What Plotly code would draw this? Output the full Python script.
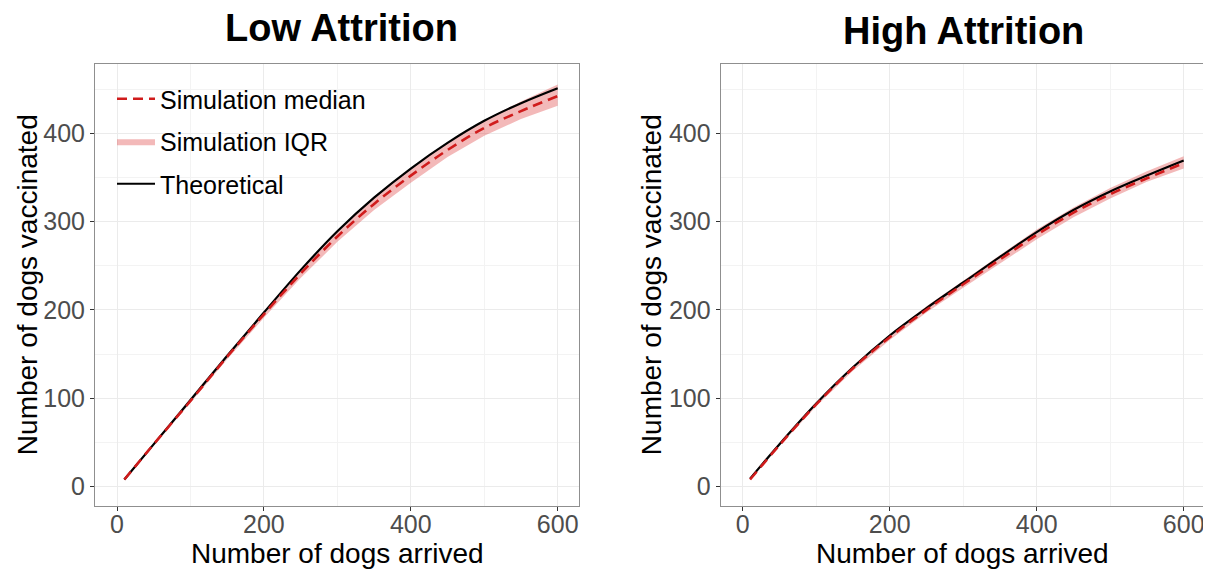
import plotly.graph_objects as go

# ---- data ----
x_vals = [10, 50, 100, 150, 200, 250, 300, 350, 400, 450, 500, 550, 600]

low_theory = [8, 48, 98, 148, 197, 245, 289, 327, 360, 389, 414, 434, 451]
low_median = [8, 48, 97, 147, 195, 241, 283, 320, 352, 381, 406, 425, 442]
low_iqr_hi = [9, 49, 99, 149, 198, 246, 290, 328, 360, 389, 415, 436, 455]
low_iqr_lo = [7, 46, 95, 144, 191, 236, 277, 313, 344, 373, 397, 416, 431]

high_theory = [9, 48, 94, 135, 171, 202, 231, 260, 288, 313, 334, 352, 369]
high_median = [8, 47, 93, 134, 169, 200, 229, 257, 285, 310, 331, 349, 366]
high_iqr_hi = [9, 49, 95, 136, 172, 204, 233, 262, 291, 316, 338, 357, 374]
high_iqr_lo = [7, 46, 91, 131, 166, 197, 225, 253, 280, 305, 326, 345, 360]

titles = ["Low Attrition", "High Attrition"]
x_title = "Number of dogs arrived"
y_title = "Number of dogs vaccinated"
x_ticks = [0, 200, 400, 600]
y_ticks = [0, 100, 200, 300, 400]

RED = "#D01C1C"
FILL = "rgba(222,60,60,0.36)"
FONT = "Liberation Sans, Arial, sans-serif"

fig = go.Figure()

panels = [
    ("x", "y", low_theory, low_median, low_iqr_hi, low_iqr_lo, True),
    ("x2", "y2", high_theory, high_median, high_iqr_hi, high_iqr_lo, False),
]
for xa, ya, th, med, hi, lo, show in panels:
    fig.add_trace(go.Scatter(
        x=x_vals + x_vals[::-1], y=hi + lo[::-1], xaxis=xa, yaxis=ya,
        fill="toself", fillcolor=FILL, line=dict(width=0), mode="lines",
        name="Simulation IQR", legendgroup="iqr", legendrank=2,
        showlegend=show, hoverinfo="skip"))
    fig.add_trace(go.Scatter(
        x=x_vals, y=th, xaxis=xa, yaxis=ya, mode="lines",
        line=dict(color="black", width=2.2, shape="spline"),
        name="Theoretical", legendgroup="theo", legendrank=3, showlegend=show))
    fig.add_trace(go.Scatter(
        x=x_vals, y=med, xaxis=xa, yaxis=ya, mode="lines",
        line=dict(color=RED, width=2.6, dash="10px,6px", shape="spline"),
        name="Simulation median", legendgroup="med", legendrank=1, showlegend=show))

# the figure is laid out in window pixels (origin at the window's top-left)
OFF = 8
W, H = 1211 - OFF, 573 - OFF

def px_x(xpx):
    return (xpx - OFF) / W

def px_y(ypx):
    return (H - (ypx - OFF)) / H

top_px, bot_px = 64.3, 506
ydom = [px_y(bot_px), px_y(top_px)]
xdom1 = [px_x(95), px_x(579)]
xdom2 = [px_x(720.7), px_x(1205)]

axis_common = dict(
    showline=True, mirror=True, linecolor="#8F8F8F", linewidth=1,
    showgrid=True, gridcolor="#EBEBEB", gridwidth=1, zeroline=False,
    ticks="outside", ticklen=4, tickcolor="#333333", tickwidth=1,
    tickfont=dict(family=FONT, size=25, color="#4D4D4D"), automargin=False,
)
xaxis_common = dict(axis_common, range=[-30, 629], tickvals=x_ticks, ticklabelstandoff=-8,
                    minor=dict(dtick=100, tick0=0, showgrid=True, gridcolor="#F3F3F3", gridwidth=0.7, ticks=""))
yaxis_common = dict(axis_common, range=[-22, 478], tickvals=y_ticks,
                    minor=dict(dtick=50, tick0=0, showgrid=True, gridcolor="#F3F3F3", gridwidth=0.7, ticks=""))

def ann(text, xpx, ypx, size, bold=False, angle=0):
    return dict(text=("<b>%s</b>" % text) if bold else text, x=px_x(xpx), y=px_y(ypx),
                xref="paper", yref="paper", showarrow=False, textangle=angle,
                font=dict(family=FONT, size=size, color="black"),
                xanchor="center", yanchor="middle")

annotations = [
    ann(titles[0], 341, 28, 38, bold=True),
    ann(titles[1], 963, 31, 38, bold=True),
    ann(x_title, (95 + 579) / 2, 553, 28),
    ann(x_title, (720.7 + 1205) / 2, 553, 28),
    ann(y_title, 27, (top_px + bot_px) / 2, 28, angle=-90),
    ann(y_title, 651, (top_px + bot_px) / 2, 28, angle=-90),
]

# white legend background: above the grid, below the curves
legend_bg = dict(type="rect", xref="paper", yref="paper", layer="between",
                 x0=px_x(111), x1=px_x(352), y0=px_y(203), y1=px_y(79),
                 fillcolor="white", line=dict(width=0))

fig.update_layout(
    width=W, height=H, margin=dict(l=0, r=0, t=0, b=0, autoexpand=False),
    paper_bgcolor="white", plot_bgcolor="white",
    xaxis=dict(xaxis_common, domain=xdom1, anchor="y"),
    yaxis=dict(yaxis_common, domain=ydom, anchor="x"),
    xaxis2=dict(xaxis_common, domain=xdom2, anchor="y2"),
    yaxis2=dict(yaxis_common, domain=ydom, anchor="x2"),
    showlegend=True,
    legend=dict(x=px_x(112), y=px_y(76), xanchor="left", yanchor="top",
                bgcolor="rgba(255,255,255,0)", font=dict(family=FONT, size=25, color="black"),
                traceorder="grouped", tracegroupgap=7, itemwidth=38),
    shapes=[legend_bg],
    annotations=annotations,
)

fig.write_html("out.html")
